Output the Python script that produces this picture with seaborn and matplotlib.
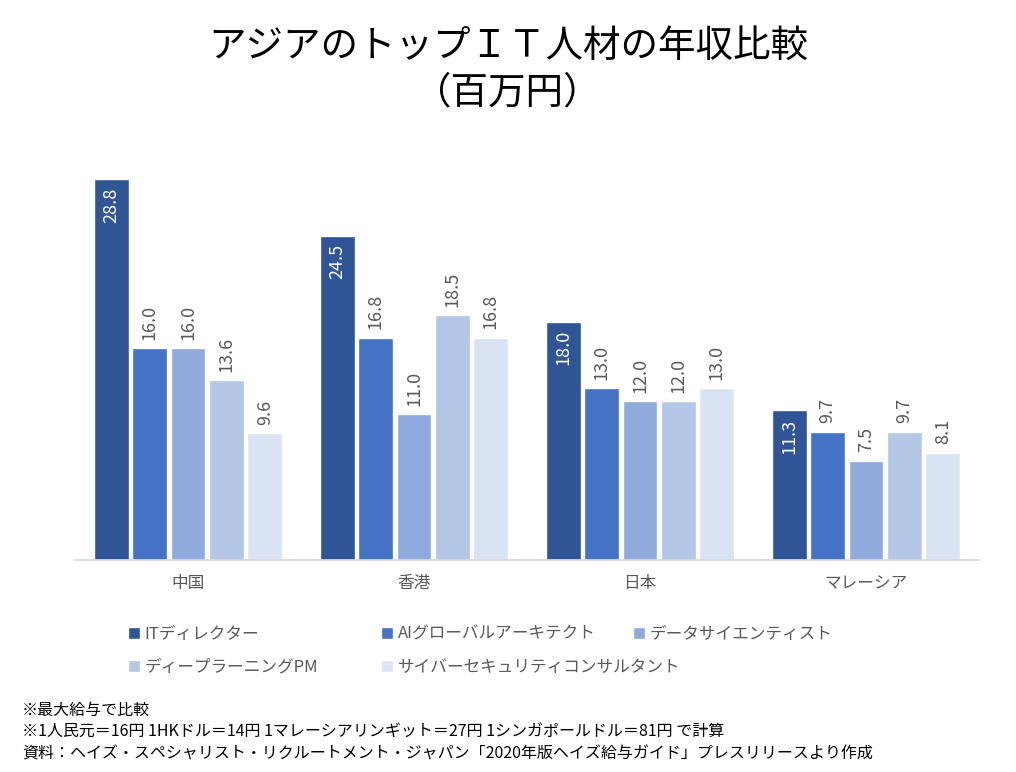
import numpy as np
import pandas as pd
import matplotlib
matplotlib.use("Agg")
import matplotlib.pyplot as plt
import seaborn as sns

# chart data
regions = ["中国", "香港", "日本", "マレーシア"]
jobs = ["ITディレクター", "AIグローバルアーキテクト", "データサイエンティスト",
        "ディープラーニングPM", "サイバーセキュリティコンサルタント"]
it_director = [28.8, 24.5, 18.0, 11.3]
ai_architect = [16.0, 16.8, 13.0, 9.7]
data_scientist = [16.0, 11.0, 12.0, 7.5]
deep_learning_pm = [13.6, 18.5, 12.0, 9.7]
security_consultant = [9.6, 16.8, 13.0, 8.1]
colors = ["#2F5597", "#4472C4", "#8FAADC", "#B4C7E7", "#DAE3F3"]

title = "アジアのトップＩＴ人材の年収比較\n（百万円）"
notes = ["※最大給与で比較",
         "※1人民元＝16円 1HKドル＝14円 1マレーシアリンギット＝27円 1シンガポールドル＝81円 で計算",
         "資料：ヘイズ・スペシャリスト・リクルートメント・ジャパン「2020年版ヘイズ給与ガイド」プレスリリースより作成"]

series = [it_director, ai_architect, data_scientist, deep_learning_pm, security_consultant]
rows = []
for job, vals in zip(jobs, series):
    for reg, v in zip(regions, vals):
        rows.append({"region": reg, "job": job, "value": v})
df = pd.DataFrame(rows)

sns.set_theme(style="white")
plt.rcParams["font.family"] = ["Noto Sans CJK JP", "DejaVu Sans"]

fig = plt.figure(figsize=(10.16, 7.72), dpi=100)
ax = fig.add_axes([75 / 1016, 212 / 772, 904 / 1016, 397 / 772])

sns.barplot(data=df, x="region", y="value", hue="job", hue_order=jobs,
            order=regions, palette=colors, width=0.85, gap=0.09,
            saturation=1, errorbar=None, ax=ax)

ax.set_ylim(0, 30)
ax.set_xlim(-0.5, 3.5)
ax.set_xlabel("")
ax.set_ylabel("")
ax.set_yticks([])
for s in ["top", "right", "left"]:
    ax.spines[s].set_visible(False)
ax.spines["bottom"].set_color("#D9D9D9")
ax.tick_params(axis="x", length=0, labelsize=12, labelcolor="#595959", pad=11)

# value labels
for i, cont in enumerate(ax.containers):
    for bar in cont:
        h = bar.get_height()
        cx = bar.get_x() + bar.get_width() / 2
        if i == 0:
            ax.annotate(f"{h:.1f}", (cx, h), xytext=(0, -6), textcoords="offset points",
                        rotation=90, ha="center", va="top", fontsize=13, color="white")
        else:
            ax.annotate(f"{h:.1f}", (cx, h), xytext=(0, 6), textcoords="offset points",
                        rotation=90, ha="center", va="bottom", fontsize=13, color="#595959")

handles, labels = ax.get_legend_handles_labels()
ax.get_legend().remove()

# legend laid out in three columns, filled row by row
col_x = [128 / 1016, 381 / 1016, 633 / 1016]
col_items = [[0, 3], [1, 4], [2]]
for x0, idx in zip(col_x, col_items):
    fig.legend([handles[k] for k in idx], [labels[k] for k in idx],
               loc="upper left", bbox_to_anchor=(x0, 1 - 626 / 772),
               frameon=False, fontsize=12, labelcolor="#595959",
               handlelength=0.7, handleheight=0.7, handletextpad=0.3,
               labelspacing=0.95, borderaxespad=0, borderpad=0)

fig.text(0.5, 1 - 70 / 772, title, ha="center", va="center", fontsize=27,
         color="black", linespacing=1.25)

for k, line in enumerate(notes):
    fig.text(22 / 1016, 1 - (710 + 22 * k) / 772, line, ha="left", va="center",
             fontsize=11.5, color="black")

fig.savefig("out.png", dpi=100)
